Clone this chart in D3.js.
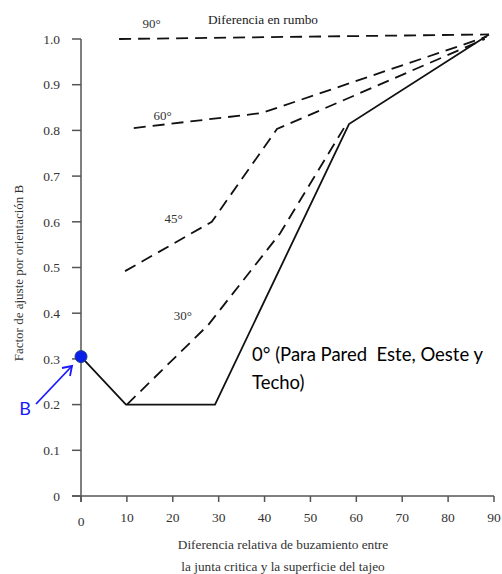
<!DOCTYPE html>
<html><head><meta charset="utf-8">
<script src="https://cdn.jsdelivr.net/npm/d3@7"></script>
<style>body{margin:0;background:#fff}svg{display:block}</style>
</head><body>
<script>
const xTicks = [0,10,20,30,40,50,60,70,80,90];
const yTicks = [0,0.1,0.2,0.3,0.4,0.5,0.6,0.7,0.8,0.9,1.0];
const yTickLabels = ["0","0.1","0.2","0.3","0.4","0.5","0.6","0.7","0.8","0.9","1.0"];
const s90 = [[8.3,1.0],[88.9,1.01]];
const s60 = [[11.5,0.805],[39.4,0.838],[88.4,1.005]];
const s45 = [[9.6,0.492],[28.5,0.60],[42.7,0.803],[88.0,1.0]];
const s30 = [[10,0.2],[27.7,0.374],[43.4,0.575],[57.3,0.805]];
const s0  = [[0,0.305],[9.8,0.2],[29.2,0.2],[58.4,0.814],[88.9,1.01]];
const seriesLabels = [["90°",15.4,1.033],["60°",17.8,0.833],["45°",20.2,0.608],["30°",22.2,0.396]];
const pointB = [0,0.305];

const W=502,H=574;
const svg=d3.select("body").append("svg").attr("width",W).attr("height",H);
const x=d3.scaleLinear().domain([0,90]).range([81,494]);
const y=d3.scaleLinear().domain([0,1]).range([496,39]);
const serif="'Liberation Serif','DejaVu Serif',serif";
const axisCol="#555";

svg.append("line").attr("x1",x(0)).attr("x2",x(0)).attr("y1",y(1)).attr("y2",y(0)+6).attr("stroke",axisCol).attr("stroke-width",1.5);
svg.append("line").attr("x1",x(0)-9).attr("x2",x(90)).attr("y1",y(0)).attr("y2",y(0)).attr("stroke",axisCol).attr("stroke-width",1.5);
svg.selectAll(".yt").data(yTicks).enter().append("line").attr("x1",x(0)-9).attr("x2",x(0)).attr("y1",d=>y(d)).attr("y2",d=>y(d)).attr("stroke",axisCol).attr("stroke-width",1.5);
svg.selectAll(".yl").data(yTicks).enter().append("text").attr("x",x(0)-21).attr("y",d=>y(d)).attr("dy","0.35em").attr("text-anchor","end")
  .attr("font-family",serif).attr("font-size",13.5).attr("fill","#333").text((d,i)=>yTickLabels[i]);
svg.selectAll(".xt").data(xTicks).enter().append("line").attr("x1",d=>x(d)).attr("x2",d=>x(d)).attr("y1",y(0)).attr("y2",y(0)+6).attr("stroke",axisCol).attr("stroke-width",1.5);
svg.selectAll(".xl").data(xTicks).enter().append("text").attr("x",d=>x(d)).attr("y",d=>d===0?521:517).attr("dy","0.35em").attr("text-anchor","middle")
  .attr("font-family",serif).attr("font-size",13.5).attr("fill","#333").text(d=>d);

svg.append("text").attr("x",283).attr("y",544).attr("dy","0.35em").attr("text-anchor","middle").attr("font-family",serif).attr("font-size",13.3).attr("fill","#333").text("Diferencia relativa de buzamiento entre");
svg.append("text").attr("x",283).attr("y",566).attr("dy","0.35em").attr("text-anchor","middle").attr("font-family",serif).attr("font-size",13.3).attr("fill","#333").text("la junta critica y la superficie del tajeo");
svg.append("text").attr("transform","translate(18,273) rotate(-90)").attr("dy","0.35em").attr("text-anchor","middle").attr("font-family",serif).attr("font-size",13).attr("fill","#333").text("Factor de ajuste por orientación B");
svg.append("text").attr("x",208).attr("y",19).attr("dy","0.35em").attr("font-family",serif).attr("font-size",13.3).attr("fill","#222").text("Diferencia en rumbo");

const line=d3.line().x(d=>x(d[0])).y(d=>y(d[1]));
[s90,s60,s45,s30].forEach(s=>{
  svg.append("path").attr("d",line(s)).attr("fill","none").attr("stroke","#111").attr("stroke-width",1.8).attr("stroke-dasharray","12,7");
});
svg.append("path").attr("d",line(s0)).attr("fill","none").attr("stroke","#111").attr("stroke-width",1.8);

svg.selectAll(".sl").data(seriesLabels).enter().append("text").attr("x",d=>x(d[1])).attr("y",d=>y(d[2])).attr("dy","0.35em").attr("text-anchor","middle")
  .attr("font-family",serif).attr("font-size",13).attr("fill","#333").text(d=>d[0]);

const sans="Lato,'Open Sans',sans-serif";
svg.append("text").attr("x",252).attr("y",355).attr("dy","0.35em").attr("font-family",sans).attr("font-size",18.5).attr("fill","#000").style("white-space","pre").text("0° (Para Pared  Este, Oeste y");
svg.append("text").attr("x",252).attr("y",383).attr("dy","0.35em").attr("font-family",sans).attr("font-size",18.5).attr("fill","#000").text("Techo)");

svg.append("circle").attr("cx",x(pointB[0])).attr("cy",y(pointB[1])).attr("r",6).attr("fill","#0a1eea").attr("stroke","#1f3c8c").attr("stroke-width",1);
svg.append("text").attr("x",25).attr("y",409).attr("dy","0.35em").attr("text-anchor","middle").attr("font-family",sans).attr("font-size",18).attr("fill","#1a1aff").text("B");
svg.append("line").attr("x1",36).attr("y1",404).attr("x2",72).attr("y2",366).attr("stroke","#1a1aff").attr("stroke-width",1.8);
svg.append("path").attr("d","M62,368 L72,366 L70,376").attr("fill","none").attr("stroke","#1a1aff").attr("stroke-width",1.8);
</script>
</body></html>
